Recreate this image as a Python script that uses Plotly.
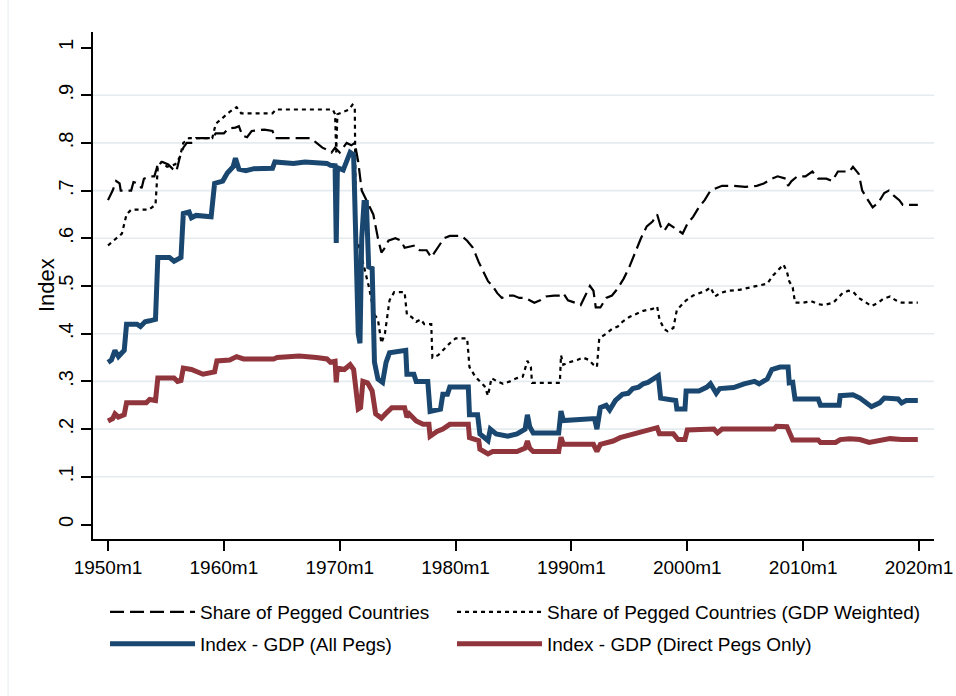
import plotly.graph_objects as go

# ---------------- data (decimal years, index values) ----------------
share_t = [1950.0, 1950.4, 1950.7, 1951.0, 1951.1, 1952.0, 1952.2, 1952.6, 1952.9, 1953.1, 1953.6, 1954.0,
           1954.3, 1954.7, 1955.2, 1955.6, 1955.9, 1956.2, 1956.5, 1956.8, 1957.3, 1957.6, 1958.5, 1959.0,
           1959.3, 1960.0, 1960.4, 1961.0, 1961.3, 1961.6, 1962.0, 1962.4, 1963.5, 1964.2, 1964.4, 1967.5,
           1968.0, 1968.5, 1969.0, 1969.3, 1969.6, 1970.0, 1970.3, 1970.6, 1971.0, 1971.3, 1971.6, 1971.9,
           1972.5, 1972.9, 1973.3, 1973.6, 1973.9, 1974.2, 1974.8, 1975.3, 1975.6, 1976.0, 1976.5, 1976.9,
           1977.5, 1977.9, 1978.3, 1978.7, 1979.0, 1979.5, 1980.5, 1981.0, 1981.5, 1982.0, 1982.4, 1982.8,
           1983.2, 1983.6, 1984.0, 1984.5, 1985.0, 1985.5, 1986.0, 1986.4, 1986.8, 1987.3, 1987.8, 1988.5,
           1989.0, 1989.3, 1989.7, 1990.3, 1990.8, 1991.2, 1991.6, 1991.9, 1992.1, 1992.5, 1993.0, 1993.5,
           1994.0, 1994.5, 1995.0, 1995.5, 1996.0, 1996.5, 1997.0, 1997.4, 1997.7, 1998.0, 1998.4, 1999.0,
           1999.6, 2000.0, 2000.5, 2001.0, 2001.5, 2002.0, 2002.5, 2003.0, 2004.0, 2005.0, 2006.0, 2006.6,
           2007.3, 2007.8, 2008.5, 2008.7, 2009.0, 2009.5, 2010.2, 2010.8, 2011.3, 2012.0, 2012.5, 2013.0,
           2014.0, 2014.3, 2014.8, 2015.1, 2015.6, 2016.0, 2016.5, 2017.0, 2017.4, 2017.8, 2018.3, 2018.6,
           2019.9]
share_v = [0.68, 0.70, 0.72, 0.715, 0.70, 0.70, 0.718, 0.715, 0.705, 0.725, 0.73, 0.73,
           0.755, 0.76, 0.755, 0.745, 0.74, 0.77, 0.79, 0.80, 0.80, 0.81, 0.81, 0.81,
           0.82, 0.82, 0.83, 0.832, 0.835, 0.815, 0.812, 0.825, 0.828, 0.825, 0.81, 0.81,
           0.80, 0.79, 0.785, 0.78, 0.79, 0.78, 0.79, 0.80, 0.795, 0.80, 0.76, 0.70,
           0.67, 0.65, 0.60, 0.57, 0.58, 0.595, 0.60, 0.595, 0.58, 0.582, 0.585, 0.575,
           0.575, 0.56, 0.575, 0.59, 0.60, 0.605, 0.605, 0.595, 0.58, 0.55, 0.53, 0.51,
           0.50, 0.485, 0.475, 0.48, 0.48, 0.475, 0.475, 0.47, 0.465, 0.47, 0.478, 0.48,
           0.48, 0.485, 0.47, 0.465, 0.46, 0.48, 0.50, 0.49, 0.455, 0.455, 0.475, 0.48,
           0.495, 0.515, 0.54, 0.57, 0.60, 0.625, 0.635, 0.65, 0.625, 0.615, 0.63, 0.62,
           0.61, 0.63, 0.645, 0.665, 0.68, 0.70, 0.705, 0.71, 0.71, 0.708, 0.71, 0.715,
           0.725, 0.73, 0.725, 0.71, 0.72, 0.73, 0.73, 0.74, 0.725, 0.725, 0.72, 0.74,
           0.74, 0.75, 0.735, 0.70, 0.68, 0.665, 0.675, 0.695, 0.70, 0.69, 0.68, 0.67,
           0.67]

gdpw_t = [1950.0, 1950.5, 1950.8, 1951.2, 1951.6, 1952.0, 1953.5, 1954.1, 1954.3, 1954.6, 1955.1, 1955.8,
          1956.2, 1956.5, 1957.0, 1959.0, 1959.3, 1960.0, 1960.5, 1961.1, 1961.5, 1964.2, 1964.5, 1969.4,
          1969.6, 1969.7, 1969.8, 1970.3, 1970.8, 1971.1, 1971.3, 1971.4, 1971.6, 1972.0, 1972.5, 1973.0,
          1973.3, 1973.6, 1973.9, 1974.3, 1974.7, 1975.6, 1975.8, 1976.2, 1976.6, 1977.0, 1977.3, 1977.9,
          1978.0, 1978.5, 1978.9, 1979.5, 1980.0, 1981.0, 1981.2, 1981.7, 1982.1, 1982.5, 1982.8, 1983.1,
          1983.6, 1984.1, 1984.7, 1985.3, 1985.8, 1986.2, 1986.5, 1986.6, 1989.0, 1989.1, 1989.3, 1989.8,
          1990.5, 1991.0, 1991.5, 1991.9, 1992.2, 1992.4, 1993.0, 1993.5, 1994.0, 1994.4, 1995.0, 1995.5,
          1996.2, 1997.0, 1997.4, 1997.6, 1998.0, 1998.3, 1998.8, 1999.1, 1999.5, 1999.9, 2000.5, 2001.0,
          2001.6, 2002.0, 2002.4, 2002.8, 2003.5, 2004.5, 2005.5, 2006.5, 2006.9, 2007.4, 2007.9, 2008.3,
          2008.6, 2008.8, 2009.1, 2009.3, 2010.0, 2010.7, 2011.3, 2011.8, 2012.6, 2013.0, 2013.4, 2013.9,
          2014.3, 2014.8, 2015.3, 2015.9, 2016.5, 2016.9, 2017.5, 2018.0, 2018.5, 2019.9]
gdpw_v = [0.585, 0.595, 0.60, 0.61, 0.65, 0.66, 0.66, 0.67, 0.75, 0.76, 0.75, 0.755,
          0.77, 0.80, 0.81, 0.81, 0.84, 0.855, 0.865, 0.875, 0.862, 0.862, 0.87, 0.87,
          0.86, 0.78, 0.86, 0.865, 0.87, 0.88, 0.875, 0.60, 0.59, 0.55, 0.50, 0.44,
          0.43, 0.38, 0.40, 0.47, 0.487, 0.487, 0.44, 0.435, 0.425, 0.43, 0.42, 0.42,
          0.35, 0.355, 0.365, 0.38, 0.39, 0.39, 0.33, 0.31, 0.30, 0.29, 0.27, 0.307,
          0.30, 0.295, 0.30, 0.307, 0.31, 0.343, 0.33, 0.297, 0.297, 0.355, 0.335, 0.34,
          0.345, 0.35, 0.345, 0.335, 0.33, 0.39, 0.40, 0.41, 0.415, 0.425, 0.435, 0.44,
          0.448, 0.452, 0.457, 0.43, 0.41, 0.405, 0.412, 0.45, 0.46, 0.47, 0.48, 0.485,
          0.49, 0.497, 0.478, 0.485, 0.49, 0.492, 0.497, 0.503, 0.505, 0.522, 0.535, 0.545,
          0.53, 0.51, 0.497, 0.465, 0.465, 0.468, 0.462, 0.46, 0.465, 0.475, 0.485, 0.49,
          0.488, 0.475, 0.468, 0.458, 0.465, 0.473, 0.478, 0.47, 0.465, 0.465]

allpegs_t = [1950.0, 1950.3, 1950.6, 1950.9, 1951.2, 1951.4, 1951.6, 1952.5, 1952.8, 1953.2, 1953.6, 1954.1,
             1954.3, 1955.3, 1955.7, 1956.0, 1956.3, 1956.5, 1957.0, 1957.2, 1957.6, 1958.9, 1959.2, 1959.9,
             1960.3, 1960.8, 1961.0, 1961.3, 1961.9, 1962.6, 1964.2, 1964.4, 1966.0, 1967.0, 1968.0, 1968.9,
             1969.2, 1969.6, 1969.7, 1969.8, 1970.3, 1970.6, 1970.9, 1971.2, 1971.35, 1971.6, 1971.75, 1971.9,
             1972.1, 1972.3, 1972.5, 1972.8, 1973.0, 1973.3, 1973.7, 1974.0, 1974.3, 1975.7, 1975.8, 1976.4,
             1976.6, 1977.6, 1977.8, 1978.7, 1978.9, 1979.3, 1979.5, 1981.1, 1981.2, 1981.9, 1982.1, 1982.8,
             1983.0, 1983.5, 1984.5, 1985.3, 1986.0, 1986.2, 1986.4, 1986.7, 1988.9, 1989.1, 1989.3, 1991.6,
             1992.0, 1992.2, 1992.5, 1993.0, 1993.3, 1993.8, 1994.4, 1994.9, 1995.3, 1995.8, 1996.2, 1996.6,
             1997.0, 1997.5, 1997.7, 1998.5, 1999.0, 1999.1, 1999.8, 1999.9, 2001.0, 2001.7, 2002.0, 2002.5,
             2002.8, 2004.0, 2004.9, 2005.8, 2006.2, 2006.9, 2007.3, 2008.0, 2008.7, 2008.8, 2009.1, 2009.3,
             2011.3, 2011.5, 2013.1, 2013.2, 2014.3, 2014.9, 2015.5, 2015.9, 2016.6, 2017.0, 2018.2, 2018.5,
             2018.9, 2019.9]
allpegs_v = [0.34, 0.345, 0.365, 0.352, 0.36, 0.365, 0.42, 0.42, 0.415, 0.425, 0.427, 0.43,
             0.56, 0.56, 0.552, 0.555, 0.56, 0.652, 0.655, 0.643, 0.648, 0.645, 0.715, 0.72,
             0.737, 0.75, 0.768, 0.745, 0.742, 0.746, 0.747, 0.76, 0.757, 0.76, 0.758, 0.757,
             0.753, 0.752, 0.59, 0.748, 0.743, 0.76, 0.78, 0.775, 0.60, 0.40, 0.38, 0.60,
             0.675, 0.675, 0.54, 0.537, 0.34, 0.305, 0.298, 0.34, 0.36, 0.365, 0.315, 0.315,
             0.30, 0.30, 0.237, 0.242, 0.273, 0.273, 0.288, 0.288, 0.23, 0.23, 0.19, 0.176,
             0.20, 0.19, 0.185, 0.19, 0.20, 0.23, 0.205, 0.192, 0.192, 0.238, 0.218, 0.22,
             0.222, 0.20, 0.245, 0.25, 0.24, 0.26, 0.273, 0.275, 0.285, 0.288, 0.295, 0.298,
             0.305, 0.312, 0.265, 0.262, 0.26, 0.242, 0.242, 0.28, 0.28, 0.288, 0.295, 0.275,
             0.285, 0.287, 0.295, 0.30, 0.295, 0.305, 0.325, 0.33, 0.33, 0.297, 0.298, 0.263,
             0.263, 0.25, 0.25, 0.27, 0.272, 0.265, 0.255, 0.247, 0.255, 0.265, 0.263, 0.255,
             0.26, 0.26]

direct_t = [1950.0, 1950.4, 1950.6, 1950.9, 1951.4, 1951.6, 1953.3, 1953.6, 1954.1, 1954.3, 1955.7, 1956.0,
            1956.3, 1956.5, 1957.2, 1957.7, 1958.2, 1959.2, 1959.4, 1960.5, 1960.8, 1961.1, 1961.7, 1964.3,
            1964.6, 1966.5, 1968.0, 1968.9, 1969.2, 1969.6, 1969.7, 1969.8, 1970.4, 1970.9, 1971.2, 1971.4,
            1971.6, 1971.8, 1972.0, 1972.4, 1972.6, 1972.8, 1973.1, 1973.6, 1974.0, 1974.5, 1975.6, 1975.8,
            1976.0, 1976.6, 1977.2, 1977.7, 1977.8, 1978.4, 1978.9, 1979.5, 1981.1, 1981.2, 1982.0, 1982.1,
            1982.8, 1983.2, 1985.3, 1986.0, 1986.2, 1986.4, 1986.7, 1988.9, 1989.1, 1989.3, 1991.9, 1992.2,
            1992.5, 1993.6, 1994.2, 1995.3, 1996.5, 1997.4, 1997.6, 1998.8, 1999.2, 1999.8, 2000.0, 2001.5,
            2002.3, 2002.6, 2003.0, 2007.5, 2007.7, 2008.6, 2008.9, 2009.1, 2011.3, 2011.5, 2012.8, 2013.2,
            2014.0, 2014.9, 2015.7, 2016.8, 2017.5, 2018.5, 2019.9]
direct_v = [0.217, 0.222, 0.232, 0.225, 0.23, 0.255, 0.255, 0.262, 0.26, 0.307, 0.307, 0.30,
            0.302, 0.328, 0.325, 0.32, 0.315, 0.32, 0.343, 0.345, 0.35, 0.352, 0.347, 0.347,
            0.35, 0.353, 0.35, 0.347, 0.34, 0.342, 0.298, 0.328, 0.325, 0.335, 0.325, 0.285,
            0.242, 0.245, 0.30, 0.297, 0.29, 0.28, 0.232, 0.223, 0.233, 0.245, 0.245, 0.225,
            0.232, 0.217, 0.21, 0.21, 0.185, 0.195, 0.20, 0.21, 0.21, 0.182, 0.176, 0.158,
            0.148, 0.153, 0.153, 0.16, 0.175, 0.16, 0.153, 0.153, 0.183, 0.168, 0.168, 0.153,
            0.168, 0.175, 0.182, 0.19, 0.197, 0.203, 0.19, 0.19, 0.178, 0.178, 0.198, 0.20,
            0.20, 0.192, 0.20, 0.20, 0.206, 0.205, 0.19, 0.177, 0.177, 0.172, 0.172, 0.178,
            0.18, 0.178, 0.172, 0.177, 0.18, 0.178, 0.178]

x_ticks = [1950, 1960, 1970, 1980, 1990, 2000, 2010, 2020]
x_labels = ["1950m1", "1960m1", "1970m1", "1980m1", "1990m1", "2000m1", "2010m1", "2020m1"]
y_ticks = [0, 0.1, 0.2, 0.3, 0.4, 0.5, 0.6, 0.7, 0.8, 0.9, 1.0]
y_labels = ["0", ".1", ".2", ".3", ".4", ".5", ".6", ".7", ".8", ".9", "1"]
grid_vals = [0.1, 0.2, 0.3, 0.4, 0.5, 0.6, 0.7, 0.8, 0.9]

FONT = "Liberation Sans, Arial, sans-serif"
BLUE = "#1A476F"
RED = "#90353B"

fig = go.Figure()
fig.add_trace(go.Scatter(x=share_t, y=share_v, mode="lines", name="Share of Pegged Countries",
                         line=dict(color="black", width=2.2, dash="14px,6px"), legend="legend"))
fig.add_trace(go.Scatter(x=gdpw_t, y=gdpw_v, mode="lines", name="Share of Pegged Countries (GDP Weighted)",
                         line=dict(color="black", width=2.2, dash="4px,4px"), legend="legend2"))
fig.add_trace(go.Scatter(x=allpegs_t, y=allpegs_v, mode="lines", name="Index - GDP (All Pegs)",
                         line=dict(color=BLUE, width=5), legend="legend3"))
fig.add_trace(go.Scatter(x=direct_t, y=direct_v, mode="lines", name="Index - GDP (Direct Pegs Only)",
                         line=dict(color=RED, width=5), legend="legend4"))

shapes = [dict(type="line", xref="paper", x0=0, x1=1, yref="y", y0=g, y1=g,
               line=dict(color="#E4ECEF", width=1.6), layer="below") for g in grid_vals]
shapes.append(dict(type="line", xref="paper", x0=-0.101, x1=-0.101, yref="paper", y0=-0.31, y1=1.063,
                   line=dict(color="#E8EEF1", width=1.2)))

leg_common = dict(orientation="v", xanchor="left", yanchor="middle",
                  font=dict(family=FONT, size=19, color="black"),
                  itemwidth=85, bgcolor="rgba(0,0,0,0)")
COL1, COL2 = 0.0143, 0.4269
ROW1, ROW2 = -0.144, -0.207

fig.update_layout(
    width=956, height=696,
    margin=dict(l=93, r=22, t=32, b=157),
    paper_bgcolor="white", plot_bgcolor="white",
    font=dict(family=FONT, size=19, color="black"),
    shapes=shapes,
    showlegend=True,
    legend=dict(x=COL1, y=ROW1, **leg_common),
    legend2=dict(x=COL2, y=ROW1, **leg_common),
    legend3=dict(x=COL1, y=ROW2, **leg_common),
    legend4=dict(x=COL2, y=ROW2, **leg_common),
    annotations=[dict(text="Index", textangle=-90, xref="paper", yref="paper", x=-0.0547, y=0.501,
                      xanchor="center", yanchor="middle", showarrow=False,
                      font=dict(family=FONT, size=22, color="black"))],
    xaxis=dict(range=[1948.705, 2021.295], tickvals=x_ticks, ticktext=x_labels,
               ticks="outside", ticklen=10, tickwidth=1.5, tickcolor="black",
               showline=True, linecolor="black", linewidth=1.5, showgrid=False, zeroline=False,
               ticklabeloverflow="allow", automargin=False,
               tickfont=dict(family=FONT, size=19)),
    yaxis=dict(range=[-0.0304, 1.0325], tickvals=y_ticks, ticktext=y_labels, tickangle=-90,
               ticks="outside", ticklen=10, tickwidth=1.5, tickcolor="black",
               showline=True, linecolor="black", linewidth=1.5, showgrid=False, zeroline=False,
               automargin=False, tickfont=dict(family=FONT, size=20)),
)

fig.write_html("out.html", config={"displayModeBar": False},
               post_script="document.body.style.margin='0';document.body.style.overflow='hidden';")
